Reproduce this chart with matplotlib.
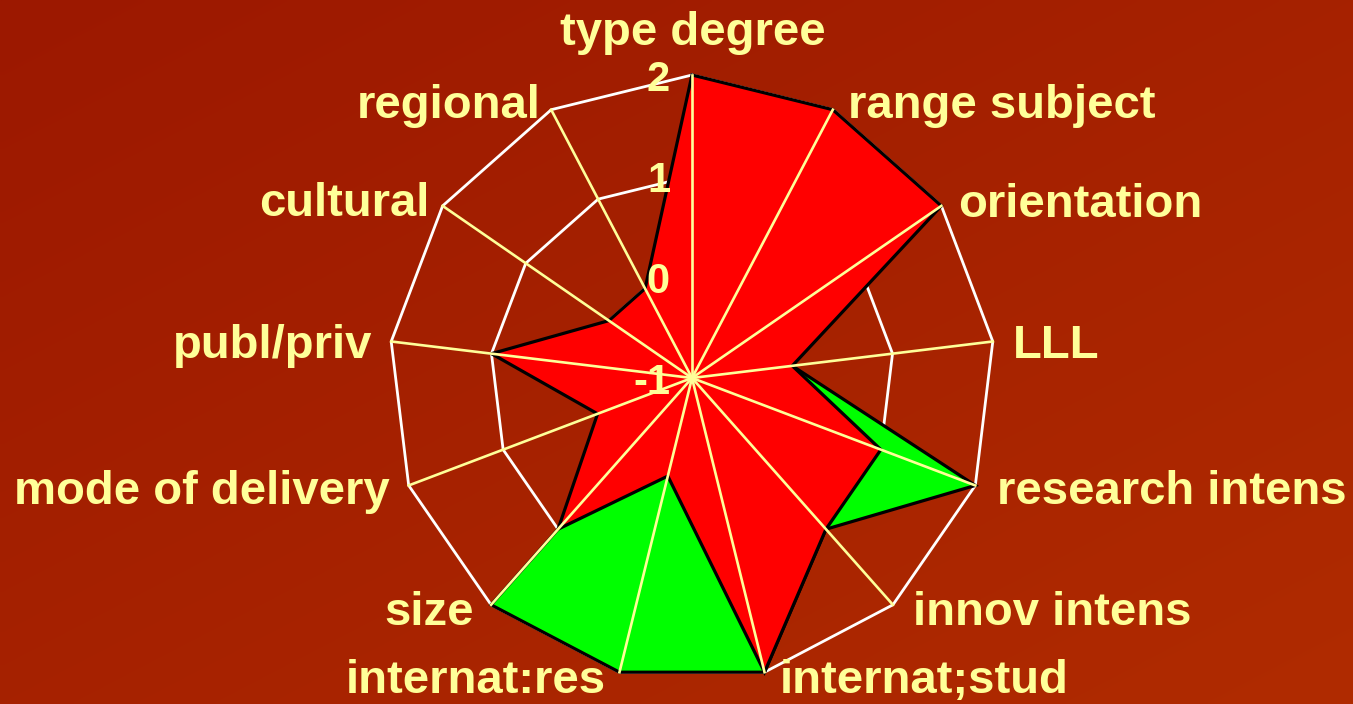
import numpy as np
import matplotlib
matplotlib.use("Agg")
import matplotlib.pyplot as plt

# Profile dimensions, clockwise from the top
categories = ["type degree", "range subject", "orientation", "LLL",
              "research intens", "innov intens", "internat;stud",
              "internat:res", "size", "mode of delivery", "publ/priv",
              "cultural", "regional"]
profile_red = [2, 2, 2, 0, 1, 1, 2, 0, 1, 0, 1, 0, 0]
profile_green = [-1, -1, -1, 0, 2, 1, 2, 2, 2, -1, -1, -1, -1]
r_ticks = [-1, 0, 1, 2]
r_tick_labels = ["-1", "0", "1", "2"]

# Label placement (pixel offsets from the outer end of each spoke)
label_dx = [1, 15, 17, 20, 22, 20, 15, -14, -17, -19, -19, -13, -11]
label_dy = [30, -8, -11, -17, -19, -20, -21, -21, -20, -19, -17, -10, -8]

TEXT = "#FFFF99"
SPOKE = "#FFFF99"
FONT = "Liberation Sans"

W, H = 1353, 704
fig = plt.figure(figsize=(W / 100, H / 100), dpi=100)

# diagonal background gradient
bg = fig.add_axes([0, 0, 1, 1])
gy, gx = np.mgrid[0:1:200j, 0:1:200j]
t = (gx + gy) / 2.0
c0 = np.array([156, 24, 0]) / 255.0
c1 = np.array([176, 43, 0]) / 255.0
grad = c0[None, None, :] + (c1 - c0)[None, None, :] * t[..., None]
bg.imshow(grad, extent=[0, 1, 0, 1], aspect="auto", interpolation="bilinear")
bg.set_axis_off()

cx, cy, R = 692, 378, 303
ax = fig.add_axes([(cx - R) / W, (H - cy - R) / H, 2 * R / W, 2 * R / H],
                  projection="polar")
ax.set_theta_zero_location("N")
ax.set_theta_direction(-1)
ax.set_ylim(r_ticks[0], r_ticks[-1])
ax.set_facecolor("none")
ax.grid(False)
ax.spines["polar"].set_visible(False)
ax.set_xticks([])
ax.set_yticks([])

n = len(categories)
theta = np.arange(n) * 2 * np.pi / n
theta_c = np.append(theta, theta[0])

# polygonal rings
for v in r_ticks[1:]:
    ax.plot(theta_c, [v] * (n + 1), color="white", lw=2.0, zorder=1,
            clip_on=False)

# series
ax.fill(theta_c, np.append(profile_green, profile_green[0]),
        facecolor="#00FF00", edgecolor="black", lw=2.3, zorder=2,
        clip_on=False)
ax.fill(theta_c, np.append(profile_red, profile_red[0]),
        facecolor="#FF0000", edgecolor="black", lw=2.3, zorder=3,
        clip_on=False)

# spokes
for th in theta:
    ax.plot([th, th], [r_ticks[0], r_ticks[-1]], color=SPOKE, lw=1.9,
            zorder=4, clip_on=False)

# radial tick labels along the top spoke
for v, lbl in zip(r_ticks, r_tick_labels):
    ax.annotate(lbl, xy=(0, v), xytext=(-22, -16), textcoords="offset pixels",
                ha="right", va="baseline", fontsize=30, fontweight="bold",
                family=FONT, color=TEXT, zorder=6, annotation_clip=False)

# category labels
for th, name, dx, dy in zip(theta, categories, label_dx, label_dy):
    ha = "center" if dx == 1 else ("left" if dx > 0 else "right")
    ax.annotate(name, xy=(th, r_ticks[-1]), xytext=(dx, dy),
                textcoords="offset pixels", ha=ha, va="baseline",
                fontsize=34, fontweight="bold", family=FONT, color=TEXT,
                zorder=6, annotation_clip=False)

fig.savefig("out.png", dpi=100)
